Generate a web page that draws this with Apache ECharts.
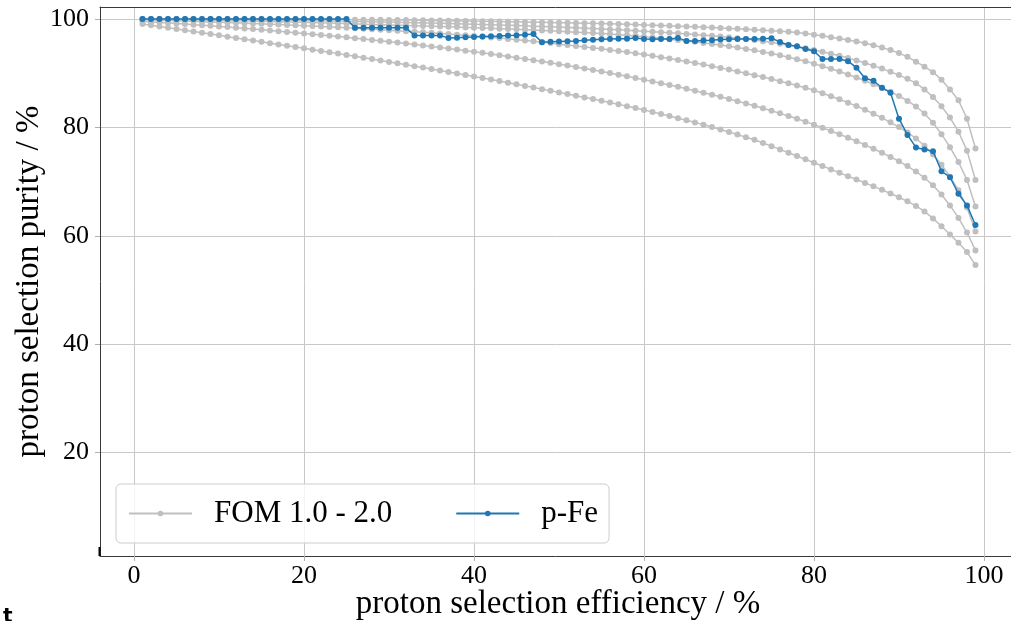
<!DOCTYPE html>
<html><head><meta charset="utf-8">
<script src="https://cdn.jsdelivr.net/npm/echarts@6/dist/echarts.min.js"></script>
<style>html,body{margin:0;padding:0;background:#fff;}#c{width:1011px;height:621px;}</style>
</head><body><div id="c"></div>
<script>
const efficiency = [1,2,3,4,5,6,7,8,9,10,11,12,13,14,15,16,17,18,19,20,21,22,23,24,25,26,27,28,29,30,31,32,33,34,35,36,37,38,39,40,41,42,43,44,45,46,47,48,49,50,51,52,53,54,55,56,57,58,59,60,61,62,63,64,65,66,67,68,69,70,71,72,73,74,75,76,77,78,79,80,81,82,83,84,85,86,87,88,89,90,91,92,93,94,95,96,97,98,99];

const fom1 = [100.0,100.0,100.0,100.0,100.0,100.0,100.0,100.0,99.99,99.99,
99.99,99.98,99.98,99.97,99.97,99.96,99.96,99.95,99.94,99.93,
99.92,99.91,99.90,99.89,99.88,99.87,99.86,99.84,99.83,99.81,
99.80,99.78,99.76,99.74,99.72,99.70,99.68,99.66,99.63,99.60,
99.58,99.55,99.52,99.49,99.46,99.43,99.40,99.37,99.34,99.31,
99.28,99.25,99.22,99.18,99.15,99.10,99.05,99.00,98.95,98.90,
98.84,98.78,98.72,98.66,98.60,98.54,98.47,98.40,98.33,98.25,
98.17,98.09,98.01,97.93,97.84,97.74,97.62,97.48,97.30,97.10,
96.88,96.62,96.38,96.10,95.82,95.50,95.15,94.72,94.25,93.70,
93.00,92.12,91.20,90.18,88.80,87.00,85.00,81.60,76.10];

const fom2 = [99.98,99.97,99.96,99.95,99.94,99.93,99.92,99.91,99.90,99.88,
99.87,99.85,99.83,99.81,99.79,99.77,99.75,99.73,99.71,99.69,
99.67,99.65,99.62,99.60,99.57,99.54,99.51,99.48,99.45,99.42,
99.38,99.35,99.31,99.27,99.23,99.19,99.15,99.11,99.07,99.03,
98.98,98.93,98.88,98.83,98.78,98.73,98.67,98.61,98.55,98.49,
98.43,98.36,98.29,98.22,98.15,98.07,97.99,97.91,97.83,97.74,
97.65,97.55,97.45,97.35,97.24,97.13,97.01,96.89,96.76,96.62,
96.45,96.28,96.10,95.90,95.68,95.44,95.18,94.90,94.60,94.28,
93.94,93.58,93.20,92.79,92.35,91.88,91.38,90.84,90.26,89.64,
88.95,88.15,87.00,85.60,83.90,81.80,79.20,75.70,70.30];

const fom3 = [99.95,99.93,99.91,99.89,99.87,99.85,99.82,99.79,99.76,99.73,
99.70,99.67,99.64,99.60,99.57,99.53,99.49,99.45,99.41,99.37,
99.33,99.28,99.24,99.19,99.14,99.09,99.04,98.99,98.94,98.89,
98.84,98.79,98.74,98.69,98.64,98.59,98.54,98.49,98.44,98.38,
98.32,98.26,98.20,98.14,98.08,98.01,97.94,97.87,97.80,97.72,
97.64,97.56,97.48,97.39,97.30,97.20,97.09,96.97,96.84,96.70,
96.56,96.42,96.27,96.11,95.95,95.77,95.58,95.38,95.17,94.95,
94.72,94.47,94.20,93.92,93.62,93.30,92.95,92.58,92.18,91.75,
91.28,90.80,90.30,89.76,89.20,88.60,87.96,87.28,86.55,85.78,
84.88,83.85,82.55,80.85,78.75,76.35,73.60,70.30,65.40];

const fom4 = [99.85,99.80,99.75,99.70,99.65,99.60,99.55,99.50,99.45,99.40,
99.34,99.28,99.22,99.16,99.10,99.04,98.97,98.90,98.83,98.76,
98.69,98.61,98.53,98.45,98.37,98.29,98.20,98.11,98.02,97.93,
97.84,97.74,97.64,97.54,97.44,97.33,97.22,97.10,96.98,96.85,
96.72,96.59,96.46,96.32,96.18,96.03,95.88,95.72,95.54,95.35,
95.17,95.00,94.83,94.66,94.48,94.29,94.09,93.88,93.66,93.43,
93.19,92.94,92.68,92.42,92.15,91.87,91.58,91.28,90.97,90.65,
90.32,89.98,89.63,89.27,88.90,88.52,88.13,87.73,87.32,86.85,
86.30,85.75,85.17,84.56,83.92,83.24,82.52,81.75,80.93,80.05,
79.05,77.95,76.60,75.00,73.10,70.90,68.40,65.20,60.80];

const fom5 = [99.55,99.45,99.35,99.25,99.15,99.05,98.94,98.83,98.72,98.61,
98.49,98.37,98.25,98.13,98.00,97.87,97.74,97.61,97.47,97.33,
97.19,97.05,96.90,96.75,96.60,96.45,96.29,96.13,95.97,95.80,
95.63,95.46,95.28,95.10,94.92,94.73,94.54,94.35,94.15,93.95,
93.74,93.53,93.31,93.09,92.86,92.63,92.39,92.15,91.90,91.65,
91.39,91.13,90.86,90.58,90.30,90.01,89.72,89.42,89.11,88.80,
88.48,88.15,87.82,87.48,87.13,86.77,86.40,86.02,85.63,85.23,
84.82,84.40,83.97,83.52,83.06,82.58,82.09,81.58,81.05,80.50,
79.93,79.34,78.73,78.10,77.44,76.76,76.05,75.31,74.54,73.74,
72.85,71.85,70.70,69.30,67.60,65.60,63.30,60.60,57.30];

const fom6 = [99.05,98.83,98.60,98.37,98.14,97.91,97.68,97.45,97.21,96.97,
96.73,96.49,96.25,96.01,95.77,95.53,95.29,95.05,94.81,94.57,
94.33,94.09,93.85,93.60,93.35,93.10,92.85,92.59,92.33,92.07,
91.81,91.55,91.29,91.02,90.75,90.48,90.21,89.94,89.67,89.40,
89.11,88.82,88.53,88.24,87.95,87.65,87.35,87.05,86.75,86.45,
86.14,85.83,85.52,85.21,84.90,84.57,84.24,83.90,83.56,83.22,
82.85,82.47,82.08,81.69,81.30,80.90,80.50,80.05,79.59,79.13,
78.66,78.18,77.70,77.12,76.53,75.93,75.32,74.71,74.10,73.48,
72.86,72.24,71.62,71.00,70.38,69.75,69.12,68.47,67.80,67.10,
66.35,65.50,64.50,63.20,61.75,60.25,58.70,57.00,54.60];

const pFe = [100,100,100,100,100,100,100,100,100,100,
100,100,100,100,100,100,100,100,100,100,
100,100,100,100,100,
98.35,98.35,98.35,98.35,98.35,98.35,98.35,
96.95,96.95,96.95,96.95,
96.5,96.55,96.6,96.65,96.75,96.8,96.85,96.95,97.0,97.1,97.2,
95.7,95.8,95.85,95.9,95.95,96.05,96.15,96.25,96.3,96.35,96.35,96.5,96.3,
96.25,96.3,96.3,96.5,95.95,95.95,96.0,96.05,96.2,96.25,96.3,96.3,96.3,96.35,96.45,
95.75,95.2,94.95,94.45,94.05,92.6,92.6,92.6,92.2,91.0,89.05,88.6,87.3,86.4,81.6,78.6,76.3,75.9,75.6,71.9,70.8,67.75,65.6,62.0];

const grayCurves = [fom1, fom2, fom3, fom4, fom5, fom6];
const grayName = 'FOM 1.0 - 2.0';
const blueName = 'p-Fe';
const xTickValues = [0, 20, 40, 60, 80, 100];
const yTickValues = [20, 40, 60, 80, 100];
const xLabel = 'proton selection efficiency / %';
const yLabel = 'proton selection purity / %';

const SERIF = "'Liberation Serif', 'DejaVu Serif', serif";
const GRAY = '#bfbfbf';
const BLUE = '#1f77b4';
const GRID = '#c8c8c8';
const SPINE = '#3a3a3a';

const xMin = -4, xMax = 103.18, yMin = 0.93, yMax = 102.2;

function pairs(ys) { return efficiency.map((x, i) => [x, ys[i]]); }

const series = grayCurves.map((ys) => ({
  name: grayName, type: 'line', xAxisIndex: 0, yAxisIndex: 0,
  data: pairs(ys), symbol: 'circle', symbolSize: 6, showSymbol: true,
  lineStyle: { color: GRAY, width: 1.5 }, itemStyle: { color: GRAY },
  z: 2, silent: true, animation: false
}));
series.push({
  name: blueName, type: 'line', xAxisIndex: 0, yAxisIndex: 0,
  data: pairs(pFe), symbol: 'circle', symbolSize: 6,
  lineStyle: { color: BLUE, width: 1.5 }, itemStyle: { color: BLUE },
  z: 3, silent: true, animation: false
});

const chart = echarts.init(document.getElementById('c'), null, { renderer: 'canvas' });
chart.setOption({
  animation: false,
  backgroundColor: '#fff',
  grid: [
    { left: 100, right: 0, top: 7, bottom: 65 },
    { left: 134, right: 27.03, top: 7, bottom: 65 },
    { left: 100, right: 0, top: 18.93, bottom: 168.38 }
  ],
  xAxis: [
    { gridIndex: 0, type: 'value', min: xMin, max: xMax, position: 'bottom',
      axisLine: { show: true, onZero: false, lineStyle: { color: SPINE, width: 1 } },
      axisTick: { show: false }, axisLabel: { show: false }, splitLine: { show: false } },
    { gridIndex: 1, type: 'value', min: xTickValues[0], max: xTickValues[xTickValues.length - 1],
      interval: xTickValues[1] - xTickValues[0], position: 'bottom',
      axisLine: { show: false, onZero: false },
      axisTick: { show: true, length: 5, lineStyle: { color: '#b0b0b0' } },
      axisLabel: { show: true, margin: 7, fontSize: 26, fontFamily: SERIF, color: '#000' },
      splitLine: { show: true, lineStyle: { color: GRID, width: 1 } } },
    { gridIndex: 2, type: 'value', min: 0, max: 1, show: false },
    { gridIndex: 0, type: 'value', min: xMin, max: xMax, position: 'top',
      axisLine: { show: true, onZero: false, lineStyle: { color: SPINE, width: 1 } },
      axisTick: { show: false }, axisLabel: { show: false }, splitLine: { show: false } }
  ],
  yAxis: [
    { gridIndex: 0, type: 'value', min: yMin, max: yMax,
      axisLine: { show: true, onZero: false, lineStyle: { color: SPINE, width: 1 } },
      axisTick: { show: false }, axisLabel: { show: false }, splitLine: { show: false },
      name: yLabel, nameLocation: 'middle', nameGap: 54, nameMoveOverlap: false,
      nameTextStyle: { fontSize: 33, fontFamily: SERIF, color: '#000' } },
    { gridIndex: 1, type: 'value', min: 0, max: 1, show: false },
    { gridIndex: 2, type: 'value', min: yTickValues[0], max: yTickValues[yTickValues.length - 1],
      interval: yTickValues[1] - yTickValues[0],
      axisLine: { show: false, onZero: false },
      axisTick: { show: true, length: 5, lineStyle: { color: '#b0b0b0' } },
      axisLabel: { show: true, margin: 11, fontSize: 26, fontFamily: SERIF, color: '#000' },
      splitLine: { show: true, lineStyle: { color: GRID, width: 1 } } }
  ],
  legend: {
    data: [grayName, blueName],
    left: 116, top: 484, orient: 'horizontal',
    padding: [14, 11, 14, 12],
    itemWidth: 63, itemHeight: 7, itemGap: 63,
    selectedMode: false,
    textStyle: { fontSize: 31, fontFamily: SERIF, color: '#000', padding: [0, 0, 0, 17] },
    backgroundColor: 'rgba(255,255,255,0.8)',
    borderColor: '#cccccc', borderWidth: 1, borderRadius: 5
  },
  graphic: [
    { type: 'text', x: 558, y: 604, z: 10,
      style: { text: xLabel, font: '33px ' + SERIF, fill: '#000',
        align: 'center', verticalAlign: 'middle' } },
    { type: 'line', shape: { x1: 99.5, y1: 547, x2: 99.5, y2: 556 },
      style: { stroke: '#000', lineWidth: 2 }, z: 10 },
    { type: 'text', left: 3, top: 607,
      style: { text: 't', font: 'bold 20px "DejaVu Sans", sans-serif', fill: '#000' }, z: 10 }
  ],
  series: series
});
</script>
</body></html>
